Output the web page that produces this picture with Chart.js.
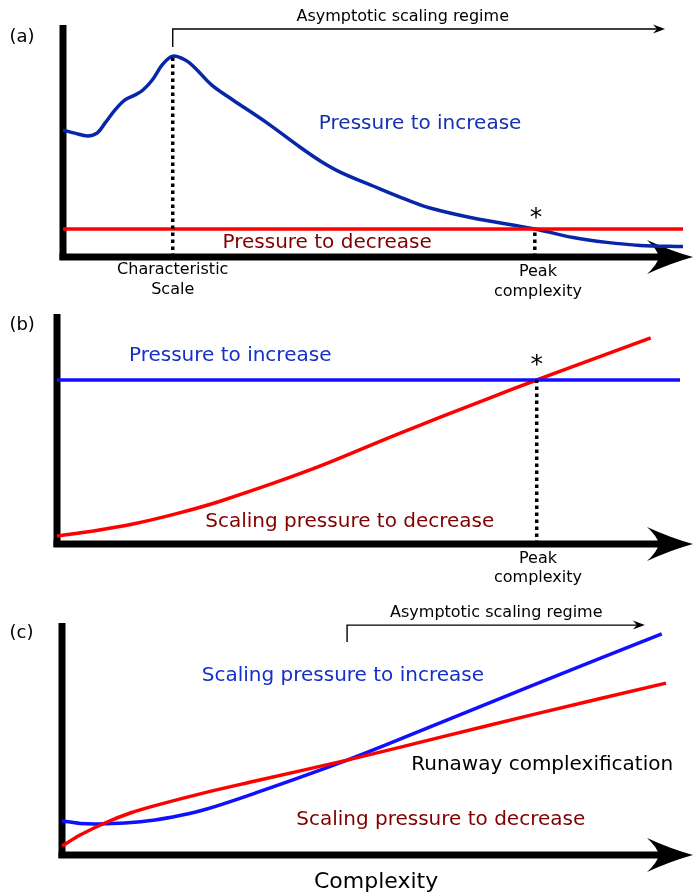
<!DOCTYPE html>
<html>
<head>
<meta charset="utf-8">
<script src="https://cdn.jsdelivr.net/npm/chart.js@4/dist/chart.umd.min.js"></script>
<style>
  html, body { margin: 0; padding: 0; background: #fff; }
  canvas { position: absolute; left: 0; }
  #chart-a { top: 0; }
  #chart-b { top: 300px; }
  #chart-c { top: 600px; }
</style>
</head>
<body>
<canvas id="chart-a" width="693" height="300"></canvas>
<canvas id="chart-b" width="693" height="300"></canvas>
<canvas id="chart-c" width="693" height="295"></canvas>
<script>
// (a) pressure to increase has a hump, pressure to decrease is flat
const aIncreaseX = [0, 1.9, 4.0, 5.5, 6.8, 8.4, 10.0, 11.6, 12.9, 14.4, 16.0, 17.7, 19.7, 21.3, 24.0, 27.4, 32.9, 38.2, 41.5, 44.7, 50.0, 55.5, 59.2, 66.1, 76.1, 82.3, 87.7, 93.1, 100];
const aIncreaseY = [54.7, 53.4, 52.2, 53.4, 57.8, 63.4, 67.7, 69.8, 72.0, 76.3, 82.8, 86.6, 84.9, 81.5, 74.1, 67.7, 57.8, 47.4, 41.4, 36.6, 30.6, 24.6, 21.1, 16.8, 12.1, 8.4, 6.3, 5.0, 4.5];
const aDecreaseX = [0, 100];
const aDecreaseY = [12.1, 12.1];
const aCharScale = 17.7;
const aPeakComplexity = 76.1;

// (b) flat pressure to increase, rising scaling pressure to decrease
const bIncreaseX = [0, 100];
const bIncreaseY = [71.3, 71.3];
const bDecreaseX = [0, 6.1, 12.2, 19.2, 26.3, 40.6, 54.7, 69.0, 77.0, 83.1, 95.3];
const bDecreaseY = [3.5, 5.8, 8.7, 13.2, 18.7, 32.2, 47.8, 63.0, 71.3, 77.4, 89.6];
const bPeakComplexity = 77.0;

// (c) both scale, increase wins past the crossing
const cIncreaseX = [0, 3.0, 6.0, 10.4, 15.4, 19.5, 23.7, 32.0, 47.2, 62.9, 77.6, 99.3];
const cIncreaseY = [14.7, 13.6, 13.4, 13.8, 15.1, 17.0, 19.6, 26.7, 40.9, 57.3, 72.8, 95.3];
const cDecreaseX = [0, 3.0, 7.1, 11.3, 15.4, 23.7, 32.0, 47.2, 62.9, 77.6, 100];
const cDecreaseY = [3.9, 8.6, 13.8, 18.1, 21.3, 26.9, 31.9, 40.9, 50.9, 60.3, 74.1];
const cCrossing = 47.2;

const regimeLabel = 'Asymptotic scaling regime';
const peakLabel = ['Peak', 'complexity'];
const scaleLabel = ['Characteristic', 'Scale'];

const FONT = '"DejaVu Sans", sans-serif';
const RED = '#ff0000';
const DARKRED = '#800000';
const NAVY = '#0826a8';
const BLUE = '#1010ff';

const pts = (xs, ys) => xs.map((x, i) => ({ x: x, y: ys[i] }));

function curve(data, color) {
  return { data: data, borderColor: color, borderWidth: 3.5, pointRadius: 0, tension: 0.35, clip: false };
}
function dotted(x, top) {
  return { data: [{ x: x, y: 0 }, { x: x, y: top }], borderColor: '#000', borderWidth: 3.5, borderDash: [3.5, 3.5], pointRadius: 0, clip: false };
}

// axes, arrows, bracket and texts, all placed through the chart scales
const schematic = {
  id: 'schematic',
  beforeDatasetsDraw(chart, args, opts) {
    const { ctx, chartArea: a } = chart;
    ctx.save();
    ctx.fillStyle = '#000';
    // y axis
    ctx.fillRect(a.left - 3.5, a.top, 7, a.bottom - a.top + 3);
    // x axis with arrow head
    const tip = chart.width;
    ctx.fillRect(a.left - 3.5, a.bottom - 3.5, tip - 30 - a.left, 7);
    ctx.beginPath();
    ctx.moveTo(tip, a.bottom);
    ctx.quadraticCurveTo(tip - 22, a.bottom - 6, tip - 46, a.bottom - 17);
    ctx.quadraticCurveTo(tip - 36, a.bottom - 8, tip - 34, a.bottom);
    ctx.quadraticCurveTo(tip - 36, a.bottom + 8, tip - 46, a.bottom + 17);
    ctx.quadraticCurveTo(tip - 22, a.bottom + 6, tip, a.bottom);
    ctx.fill();
    ctx.restore();
  },
  afterDatasetsDraw(chart, args, opts) {
    const { ctx, scales: { x, y } } = chart;
    ctx.save();
    if (opts.bracket) {
      const b = opts.bracket;
      const x0 = x.getPixelForValue(b.x0), x1 = x.getPixelForValue(b.x1);
      const yl = y.getPixelForValue(b.yLow), yt = y.getPixelForValue(b.yTop);
      ctx.strokeStyle = '#000';
      ctx.lineWidth = 1.4;
      ctx.beginPath();
      ctx.moveTo(x0, yl);
      ctx.lineTo(x0, yt);
      ctx.lineTo(x1 - 6, yt);
      ctx.stroke();
      ctx.fillStyle = '#000';
      ctx.beginPath();
      ctx.moveTo(x1, yt);
      ctx.lineTo(x1 - 12, yt - 4.5);
      ctx.lineTo(x1 - 8, yt);
      ctx.lineTo(x1 - 12, yt + 4.5);
      ctx.closePath();
      ctx.fill();
    }
    ctx.textAlign = 'center';
    ctx.textBaseline = 'middle';
    (opts.texts || []).forEach(t => {
      ctx.font = (t.size || 20) + 'px ' + FONT;
      ctx.fillStyle = t.color || '#000';
      ctx.fillText(t.text, x.getPixelForValue(t.x), y.getPixelForValue(t.y));
    });
    ctx.restore();
  }
};

function makeChart(id, padding, datasets, extras) {
  return new Chart(document.getElementById(id), {
    type: 'line',
    data: { datasets: datasets },
    options: {
      responsive: false,
      animation: false,
      events: [],
      layout: { padding: padding },
      scales: {
        x: { type: 'linear', min: 0, max: 100, display: false },
        y: { type: 'linear', min: 0, max: 100, display: false }
      },
      plugins: { legend: { display: false }, tooltip: { enabled: false }, schematic: extras }
    },
    plugins: [schematic]
  });
}

makeChart('chart-a', { left: 63, right: 10, top: 25, bottom: 43 }, [
  dotted(aCharScale, Math.max(...aIncreaseY)),
  dotted(aPeakComplexity, aDecreaseY[0]),
  curve(pts(aDecreaseX, aDecreaseY), RED),
  curve(pts(aIncreaseX, aIncreaseY), NAVY)
], {
  bracket: { x0: aCharScale, x1: 97.1, yLow: 90.5, yTop: 98.3 },
  texts: [
    { text: '(a)', x: -6.6, y: 94.8, size: 18 },
    { text: regimeLabel, x: 54.8, y: 103.4, size: 16 },
    { text: 'Pressure to increase', x: 57.6, y: 57.3, color: '#1530b0' },
    { text: 'Pressure to decrease', x: 42.6, y: 6.0, color: DARKRED },
    { text: scaleLabel[0], x: aCharScale, y: -5.6, size: 16 },
    { text: scaleLabel[1], x: aCharScale, y: -14.2, size: 16 },
    { text: peakLabel[0], x: 76.6, y: -6.5, size: 16 },
    { text: peakLabel[1], x: 76.6, y: -15.1, size: 16 },
    { text: '*', x: aPeakComplexity + 0.2, y: 16.4, size: 25 }
  ]
});

makeChart('chart-b', { left: 57, right: 13, top: 14, bottom: 56 }, [
  dotted(bPeakComplexity, bIncreaseY[0]),
  curve(pts(bIncreaseX, bIncreaseY), BLUE),
  curve(pts(bDecreaseX, bDecreaseY), RED)
], {
  texts: [
    { text: '(b)', x: -5.6, y: 95.2, size: 18 },
    { text: 'Pressure to increase', x: 27.8, y: 81.7, color: '#1530c8' },
    { text: 'Scaling pressure to decrease', x: 47.0, y: 9.6, color: DARKRED },
    { text: peakLabel[0], x: 77.2, y: -6.5, size: 16 },
    { text: peakLabel[1], x: 77.2, y: -14.8, size: 16 },
    { text: '*', x: bPeakComplexity, y: 77.5, size: 25 }
  ]
});

makeChart('chart-c', { left: 62, right: 27, top: 23, bottom: 40 }, [
  curve(pts(cDecreaseX, cDecreaseY), RED),
  curve(pts(cIncreaseX, cIncreaseY), BLUE)
], {
  bracket: { x0: cCrossing, x1: 96.5, yLow: 91.8, yTop: 99.1 },
  texts: [
    { text: '(c)', x: -6.7, y: 95.7, size: 18 },
    { text: regimeLabel, x: 71.9, y: 104.3, size: 16 },
    { text: 'Scaling pressure to increase', x: 46.5, y: 77.2, color: '#1530c8' },
    { text: 'Runaway complexification', x: 79.5, y: 38.8 },
    { text: 'Scaling pressure to decrease', x: 62.7, y: 15.1, color: DARKRED },
    { text: 'Complexity', x: 52.0, y: -11.6, size: 22 }
  ]
});
</script>
</body>
</html>
